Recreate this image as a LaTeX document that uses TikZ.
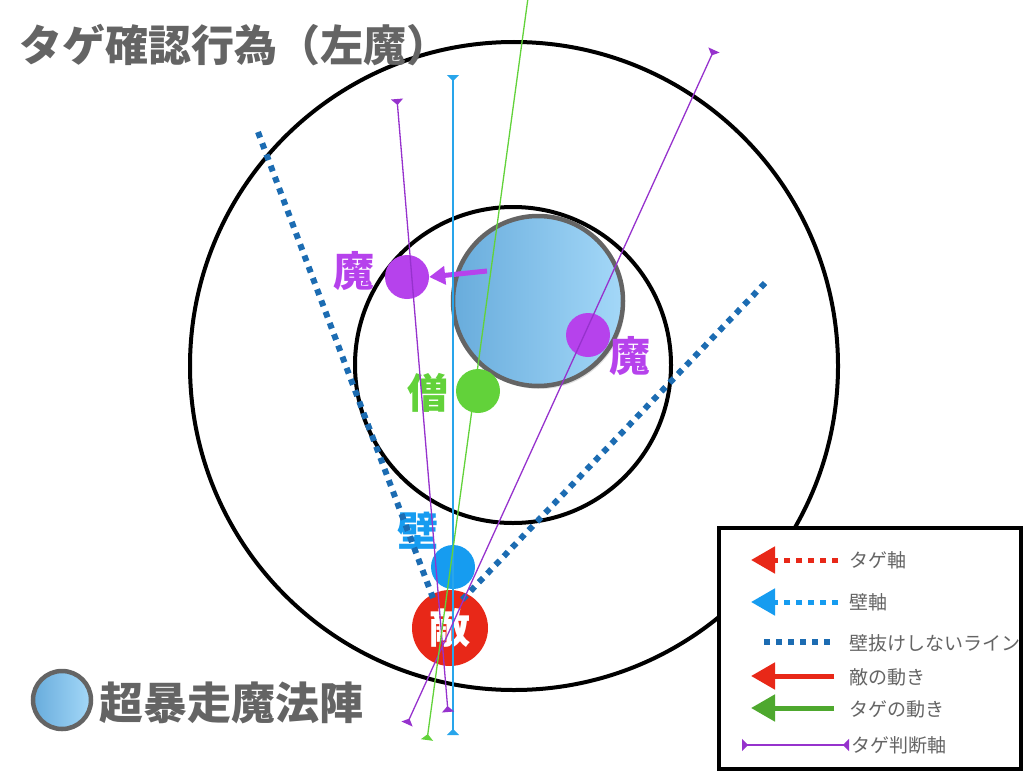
\documentclass[tikz,border=0pt]{standalone}
\usepackage{fontspec}
\setmainfont{Noto Sans CJK JP}
\usetikzlibrary{arrows.meta,shadows}

\definecolor{magicp}{RGB}{182,66,236}
\definecolor{judgep}{RGB}{150,50,205}
\definecolor{priestg}{RGB}{98,210,58}
\definecolor{wallb}{RGB}{22,156,240}
\definecolor{wallthin}{RGB}{40,165,235}
\definecolor{enemyr}{RGB}{232,40,24}
\definecolor{lineb}{RGB}{28,108,178}
\definecolor{textg}{RGB}{100,100,100}
\definecolor{jinl}{RGB}{104,172,220}
\definecolor{jinr}{RGB}{164,216,248}

\tikzset{
  dot/.style={circle, inner sep=0pt, minimum size=44pt},
  lbl/.style={font=\fontsize{41}{41}\selectfont\bfseries},
  judge/.style={line width=1.3pt, {Triangle[reversed,width=12pt,length=6pt]}-{Triangle[reversed,width=12pt,length=6pt]}},
  noslip/.style={line width=6pt, dash pattern=on 6pt off 6pt, lineb},
  legtext/.style={font=\fontsize{19}{19}\selectfont, text=textg, anchor=west, inner sep=0pt},
  legtip/.style={-{Triangle[width=26pt,length=24pt]}, line width=5pt},
  jinstyle/.style={circle, draw=textg, line width=4.5pt, left color=jinl, right color=jinr, inner sep=0pt}
}

\begin{document}
\begin{tikzpicture}[x=1pt,y=-1pt]
\useasboundingbox (0,0) rectangle (1024,776);

% rings
\draw[line width=4pt] (514,366) circle (324pt);
\draw[line width=4pt] (513,365) circle (158pt);

% title
\node[font=\fontsize{43}{43}\selectfont\bfseries, text=textg, anchor=west, inner sep=0pt] (title) at (19,45) {タゲ確認行為（左魔）};

% magic circle
\node[jinstyle, minimum size=170pt, drop shadow={opacity=0.25, shadow xshift=2pt, shadow yshift=-3pt}] (jin) at (538,301) {};

% units
\node[dot, fill=magicp] (maL) at (407,277) {};
\node[dot, fill=magicp] (maR) at (588,335) {};
\node[dot, fill=priestg] (sou) at (478,391) {};
\node[dot, fill=wallb] (kabe) at (453,567) {};
\node[dot, fill=enemyr, minimum size=76pt] (teki) at (450,628) {};

\node[lbl, text=magicp] (maLlab) at (354,271) {魔};
\node[lbl, text=magicp] (maRlab) at (630,356) {魔};
\node[lbl, text=priestg] (soulab) at (428,393) {僧};
\node[lbl, text=wallb] (kabelab) at (418,531) {壁};
\node[lbl, text=white] (tekilab) at (teki) {敵};

% movement of the left mage
\draw[magicp, line width=5pt, -{Triangle[width=18pt,length=16pt]}] (487,271) -- (maL.east);

% lines that do not pass the wall
\coordinate (wl1) at (258,132);
\coordinate (wl2) at (433,598);
\coordinate (wr1) at (765,283);
\coordinate (wr2) at (462,600);
\draw[noslip] (wl1) -- (wl2);
\draw[noslip] (wr1) -- (wr2);

% axes
\coordinate (b1) at (453,735);
\coordinate (b2) at (453,75);
\coordinate (p1) at (448,712);
\coordinate (p2) at (397,99);
\coordinate (q1) at (407,724);
\coordinate (q2) at (714,50);
\coordinate (g1) at (427,740);
\coordinate (g2) at (528,-2);
\draw[judge, wallthin] (b1) -- (b2);
\draw[judge, judgep] (p1) -- (p2);
\draw[judge, judgep] (q1) -- (q2);
\draw[line width=1.3pt, priestg, {Triangle[reversed,width=12pt,length=6pt]}-] (g1) -- (g2);

% legend
\node[draw, line width=3.5pt, fill=white, minimum width=302pt, minimum height=241pt, inner sep=0pt] (legend) at (870,648.5) {};
\draw[legtip, enemyr, dash pattern=on 6pt off 6pt] (838,560) -- (751,560);
\node[legtext] (t1) at (849,560) {タゲ軸};
\draw[legtip, wallb, dash pattern=on 6pt off 6pt] (838,602) -- (751,602);
\node[legtext] (t2) at (849,602) {壁軸};
\draw[noslip] (764,642) -- (834,642);
\node[legtext] (t3) at (849,643) {壁抜けしないライン};
\draw[legtip, enemyr] (834,676) -- (751,676);
\node[legtext] (t4) at (849,677) {敵の動き};
\draw[legtip, priestg!80!black] (834,708) -- (751,708);
\node[legtext] (t5) at (849,709) {タゲの動き};
\draw[judge, judgep] (742,745) -- (849,745);
\node[legtext] (t6) at (851,745) {タゲ判断軸};

% key of the magic circle
\node[jinstyle, minimum size=58pt, drop shadow={opacity=0.25, shadow xshift=1pt, shadow yshift=-2pt}] (jinkey) at (62,700) {};
\node[font=\fontsize{44}{44}\selectfont\bfseries, text=textg, anchor=west, inner sep=0pt] (jinlab) at (99,703) {超暴走魔法陣};
\end{tikzpicture}
\end{document}
